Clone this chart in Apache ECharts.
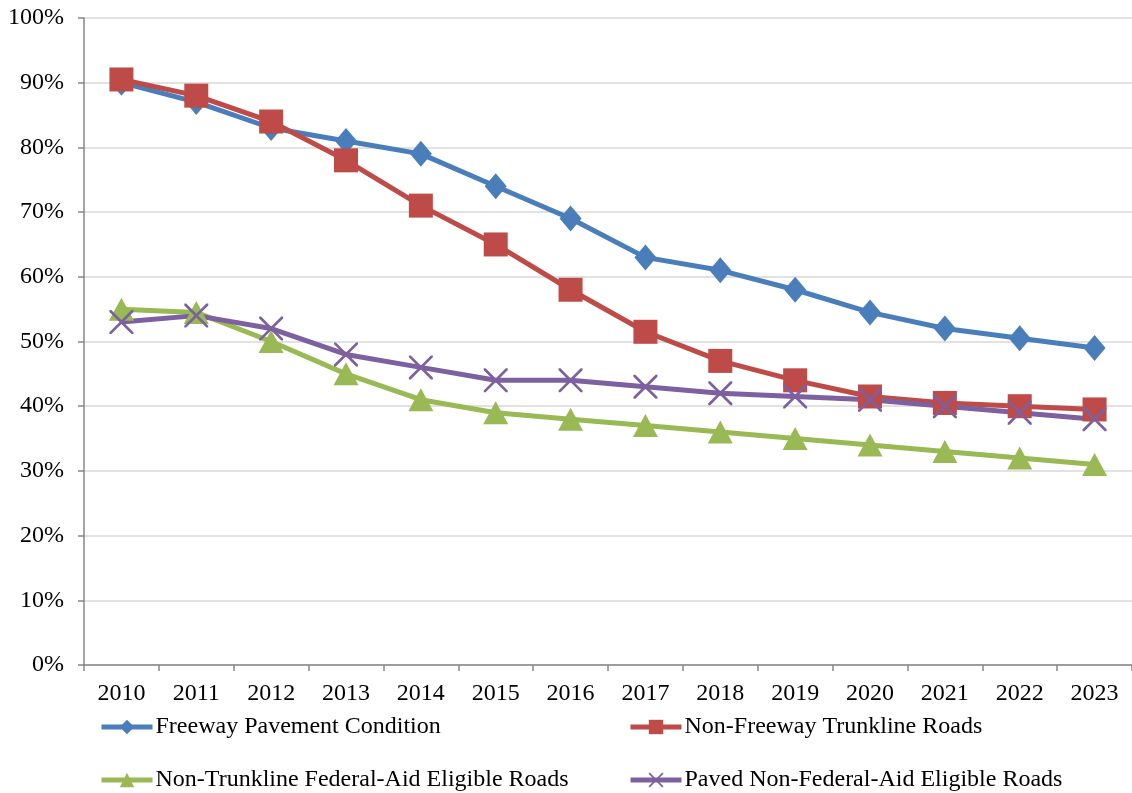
<!DOCTYPE html>
<html>
<head>
<meta charset="utf-8">
<script src="https://cdn.jsdelivr.net/npm/echarts@6/dist/echarts.min.js"></script>
<style>
  html, body { margin: 0; padding: 0; background: #fff; }
  #chart { width: 1132px; height: 793px; }
</style>
</head>
<body>
<div id="chart"></div>
<script>
// Pavement condition share by year (percent in good/fair condition)
const years = ['2010','2011','2012','2013','2014','2015','2016','2017','2018','2019','2020','2021','2022','2023'];
const freeway      = [90, 87, 83, 81, 79, 74, 69, 63, 61, 58, 54.5, 52, 50.5, 49];
const nonFreeway   = [90.5, 88, 84, 78, 71, 65, 58, 51.5, 47, 44, 41.5, 40.5, 40, 39.5];
const nonTrunkline = [55, 54.5, 50, 45, 41, 39, 38, 37, 36, 35, 34, 33, 32, 31];
const pavedNonFed  = [53, 54, 52, 48, 46, 44, 44, 43, 42, 41.5, 41, 40, 39, 38];
const seriesNames = [
  'Freeway Pavement Condition',
  'Non-Freeway Trunkline Roads',
  'Non-Trunkline Federal-Aid Eligible Roads',
  'Paved Non-Federal-Aid Eligible Roads'
];
const yTicks = { min: 0, max: 100, interval: 10 };

const FONT = '"Liberation Serif", "Times New Roman", serif';
const colors = ['#4a7ebb', '#be4b48', '#98b954', '#7d60a0'];
// thin "x" marker built as a filled outline
const crossPath = 'path://M0,0L0.8,0L10,9.2L10,10L9.2,10L0,0.8Z M9.2,0L10,0L10,0.8L0.8,10L0,10L0,9.2Z';

function lineSeries(name, data, color, symbol, size) {
  return {
    name: name,
    type: 'line',
    data: data,
    symbol: symbol,
    symbolSize: size,
    showAllSymbol: true,
    lineStyle: { color: color, width: 5 },
    itemStyle: { color: color },
    emphasis: { disabled: true },
    z: 2
  };
}

function legendAt(name, left, top) {
  return {
    data: [name],
    left: left,
    top: top,
    itemWidth: 51,
    itemHeight: 18,
    itemGap: 0,
    padding: 0,
    selectedMode: false,
    lineStyle: { width: 5 },
    textStyle: { fontFamily: FONT, fontSize: 24, color: '#000', padding: [0, 0, 0, -2] }
  };
}

const chart = echarts.init(document.getElementById('chart'), null, { renderer: 'canvas' });
chart.setOption({
  animation: false,
  color: colors,
  grid: { left: 84, right: 0, top: 18, bottom: 128, containLabel: false },
  legend: [
    legendAt(seriesNames[0], 99, 715),
    legendAt(seriesNames[1], 628, 715),
    legendAt(seriesNames[2], 99, 768),
    legendAt(seriesNames[3], 628, 768)
  ],
  xAxis: {
    type: 'category',
    data: years,
    boundaryGap: true,
    axisLine: { lineStyle: { color: '#868686', width: 1.5 } },
    axisTick: { show: true, length: 6, alignWithLabel: false, lineStyle: { color: '#868686', width: 1.5 } },
    axisLabel: { fontFamily: FONT, fontSize: 24, color: '#000', margin: 17 },
    splitLine: { show: false }
  },
  yAxis: {
    type: 'value',
    min: yTicks.min,
    max: yTicks.max,
    interval: yTicks.interval,
    axisLine: { show: true, lineStyle: { color: '#868686', width: 1.5 } },
    axisTick: { show: true, length: 6, lineStyle: { color: '#868686', width: 1.5 } },
    axisLabel: { fontFamily: FONT, fontSize: 24, color: '#000', margin: 20, formatter: '{value}%' },
    splitLine: { show: true, lineStyle: { color: '#d9d9d9', width: 1.5 } }
  },
  series: [
    lineSeries(seriesNames[0], freeway, colors[0], 'diamond', [22, 26]),
    lineSeries(seriesNames[1], nonFreeway, colors[1], 'rect', [24, 24]),
    lineSeries(seriesNames[2], nonTrunkline, colors[2], 'triangle', [25, 23]),
    lineSeries(seriesNames[3], pavedNonFed, colors[3], crossPath, [24, 24])
  ]
});
</script>
</body>
</html>
